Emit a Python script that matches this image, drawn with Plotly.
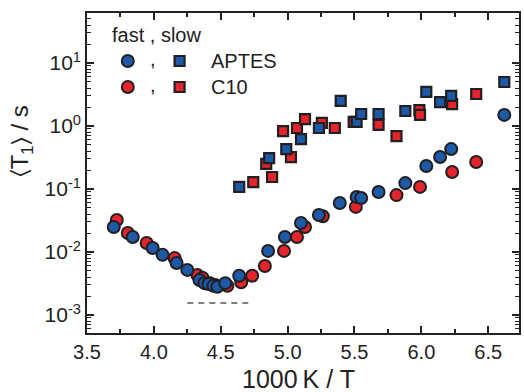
import numpy as np
import plotly.graph_objects as go

# ---- data: <T1> vs 1000 K / T ----
# fast component (circles)
fast_aptes_x = [3.70, 3.842, 3.991, 4.065, 4.17, 4.25, 4.341, 4.378, 4.408, 4.445, 4.475, 4.534,
                4.638, 4.854, 4.98, 5.10, 5.234, 5.39, 5.516, 5.55, 5.68, 5.88, 6.037, 6.14, 6.223, 6.62]
fast_aptes_y = [0.025, 0.0173, 0.0116, 0.009, 0.0067, 0.0052, 0.0036, 0.0032, 0.0031, 0.0029, 0.0028, 0.0032,
                0.0042, 0.0104, 0.0173, 0.0288, 0.0386, 0.060, 0.0746, 0.072, 0.0895, 0.124, 0.232, 0.322, 0.43, 1.5]

fast_c10_x = [3.723, 3.805, 3.946, 4.155, 4.326, 4.363, 4.42, 4.46, 4.55, 4.653, 4.735, 4.83,
              4.973, 5.07, 5.13, 5.263, 5.51, 5.814, 5.99, 6.23, 6.41]
fast_c10_y = [0.0322, 0.020, 0.0139, 0.008, 0.0043, 0.0039, 0.0032, 0.003, 0.0029, 0.0033, 0.0042, 0.006,
              0.0104, 0.0173, 0.025, 0.037, 0.052, 0.080, 0.108, 0.186, 0.268]

# slow component (squares)
slow_aptes_x = [4.638, 4.862, 4.99, 5.10, 5.234, 5.397, 5.516, 5.55, 5.68, 5.88, 6.037, 6.14, 6.223, 6.62]
slow_aptes_y = [0.108, 0.31, 0.43, 0.62, 0.93, 2.5, 1.16, 1.55, 1.55, 1.73, 3.47, 2.4, 3.0, 5.0]

slow_c10_x = [4.743, 4.84, 4.884, 4.966, 5.025, 5.07, 5.13, 5.256, 5.353, 5.494, 5.68, 5.814, 5.985, 5.99, 6.23, 6.41]
slow_c10_y = [0.129, 0.25, 0.155, 0.83, 0.32, 0.93, 1.29, 1.12, 0.93, 1.16, 1.04, 0.69, 1.79, 1.5, 2.23, 3.22]

# dashed reference level near the minimum
dash_x = [4.25, 4.72]
dash_y = [1.55e-3, 1.55e-3]

# axis ticks
x_ticks = [3.5, 4.0, 4.5, 5.0, 5.5, 6.0, 6.5]
x_ticklabels = ["3.5", "4.0", "4.5", "5.0", "5.5", "6.0", "6.5"]
y_exps = [-3, -2, -1, 0, 1]
y_ticklabels = ["10<sup>-3</sup>", "10<sup>-2</sup>", "10<sup>-1</sup>", "10<sup>0</sup>", "10<sup>1</sup>"]

BLUE = "#1c5aa8"
RED = "#e3242b"
EDGE = "#231f20"
INK = "#222222"
FONT = "Liberation Sans, Arial, sans-serif"

W, H = 524, 392
ML, MR, MT, MB = 87, 3, 13, 59

circ = dict(symbol="circle", size=12, line=dict(color=EDGE, width=2))
sq = dict(symbol="square", size=10, line=dict(color=EDGE, width=2.2))

fig = go.Figure()

fig.add_trace(go.Scatter(x=dash_x, y=dash_y, mode="lines",
                         line=dict(color="black", width=1.2, dash="6px,5px"),
                         showlegend=False, hoverinfo="skip"))

fig.add_trace(go.Scatter(x=fast_c10_x, y=fast_c10_y, mode="markers",
                         marker=dict(color=RED, **circ), name="C10 fast", showlegend=False))
fig.add_trace(go.Scatter(x=fast_aptes_x, y=fast_aptes_y, mode="markers",
                         marker=dict(color=BLUE, **circ), name="APTES fast", showlegend=False))
fig.add_trace(go.Scatter(x=slow_c10_x, y=slow_c10_y, mode="markers",
                         marker=dict(color=RED, **sq), name="C10 slow", showlegend=False))
fig.add_trace(go.Scatter(x=slow_aptes_x, y=slow_aptes_y, mode="markers",
                         marker=dict(color=BLUE, **sq), name="APTES slow", showlegend=False))

# legend keys on a hidden pixel-space overlay
key_x_circ, key_x_sq = 128, 180
key_rows = [(61, BLUE), (87, RED)]
for ky, col in key_rows:
    fig.add_trace(go.Scatter(x=[key_x_circ], y=[ky], xaxis="x2", yaxis="y2", mode="markers",
                             marker=dict(color=col, **circ), showlegend=False, hoverinfo="skip"))
    fig.add_trace(go.Scatter(x=[key_x_sq], y=[ky], xaxis="x2", yaxis="y2", mode="markers",
                             marker=dict(color=col, **sq), showlegend=False, hoverinfo="skip"))


def px_x(p):
    return (p - ML) / (W - ML - MR)


def px_y(p):
    return (H - MB - p) / (H - MT - MB)


ann = []
ann.append(dict(text="fast , slow", x=px_x(110), y=px_y(35), xanchor="left", yanchor="middle"))
ann.append(dict(text=",", x=px_x(153), y=px_y(59), xanchor="center", yanchor="middle"))
ann.append(dict(text=",", x=px_x(153), y=px_y(85), xanchor="center", yanchor="middle"))
ann.append(dict(text="APTES", x=px_x(210), y=px_y(61), xanchor="left", yanchor="middle"))
ann.append(dict(text="C10", x=px_x(210), y=px_y(87), xanchor="left", yanchor="middle"))
for a in ann:
    a.update(xref="paper", yref="paper", showarrow=False, font=dict(family=FONT, size=20, color=INK))

ann.append(dict(text="1000\u2009K / T", x=px_x(299), y=px_y(379), xref="paper", yref="paper",
                xanchor="center", yanchor="middle", showarrow=False,
                font=dict(family=FONT, size=25, color=INK)))
ann.append(dict(text="\u2329T<sub>1</sub>\u232a / s", x=px_x(21), y=px_y(141), xref="paper", yref="paper",
                xanchor="center", yanchor="middle", showarrow=False, textangle=-90,
                font=dict(family=FONT, size=24, color=INK)))

y_minor = [m * 10.0 ** e for e in range(-4, 2) for m in range(2, 10)]

fig.update_layout(
    width=W, height=H,
    margin=dict(l=ML, r=MR, t=MT, b=MB),
    paper_bgcolor="white", plot_bgcolor="white",
    showlegend=False,
    annotations=ann,
    font=dict(family=FONT, color=INK),
    xaxis=dict(range=[3.5, 6.73], tickmode="array", tickvals=x_ticks, ticktext=x_ticklabels,
               ticks="inside", ticklen=7, tickwidth=1.5, tickcolor=INK,
               minor=dict(ticks="inside", ticklen=4, tickwidth=1.5, tickcolor=INK, dtick=0.25, tick0=3.5),
               showline=True, linecolor=INK, linewidth=1.6, mirror="ticks",
               showgrid=False, zeroline=False,
               tickfont=dict(family=FONT, size=20, color=INK)),
    yaxis=dict(type="log", range=[-3.286, 1.794], tickmode="array",
               tickvals=[10.0 ** e for e in y_exps], ticktext=y_ticklabels,
               ticks="inside", ticklen=7, tickwidth=1.5, tickcolor=INK,
               minor=dict(ticks="inside", ticklen=4, tickwidth=1.2, tickcolor=INK,
                          tickmode="array", tickvals=y_minor),
               showline=True, linecolor=INK, linewidth=1.6, mirror="ticks",
               showgrid=False, zeroline=False,
               tickfont=dict(family=FONT, size=21, color=INK)),
    xaxis2=dict(overlaying="x", range=[ML, W - MR], visible=False, fixedrange=True),
    yaxis2=dict(overlaying="y", range=[H - MB, MT], visible=False, fixedrange=True),
)

fig.write_html("out.html")
